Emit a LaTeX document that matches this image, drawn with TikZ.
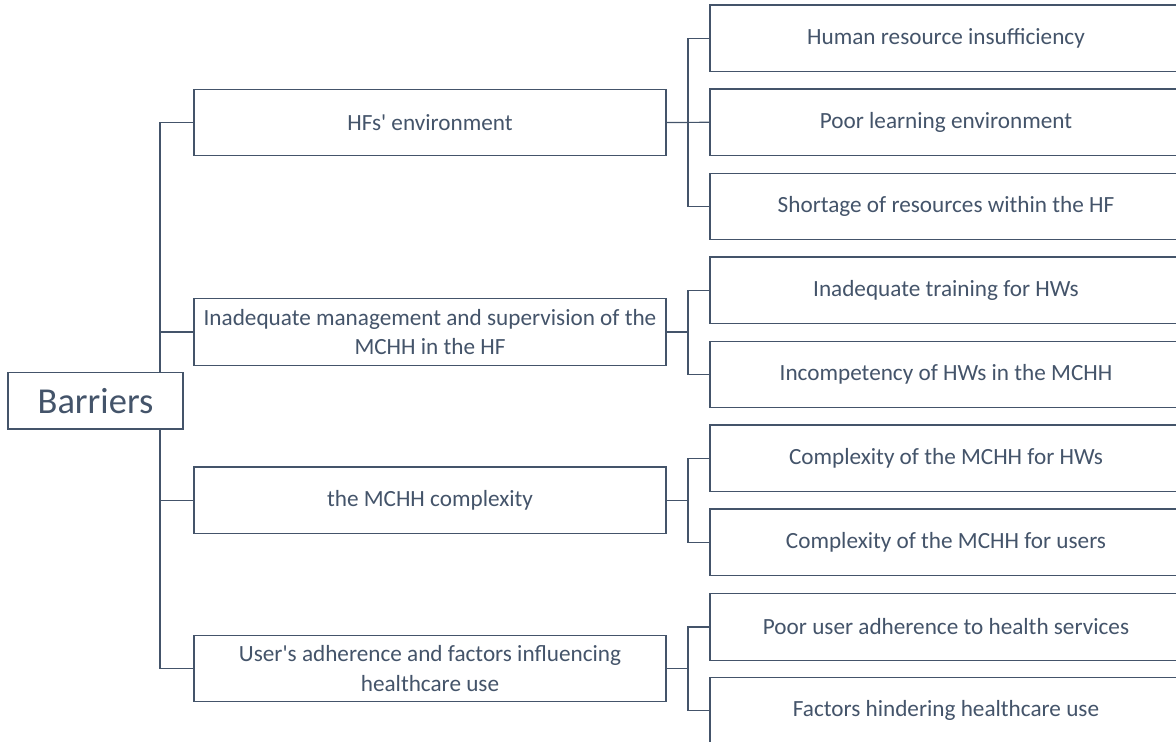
\documentclass[tikz,border=0pt]{standalone}
\usepackage{fontspec}
\setmainfont{Carlito}
\definecolor{ink}{HTML}{44546A}
\begin{document}
\begin{tikzpicture}[x=1pt,y=-1pt,
  box/.style={draw=ink, line width=1.2pt, fill=white, text=ink, inner sep=0pt,
    minimum width=472pt, minimum height=66.5pt, align=center,
    font=\fontsize{23.2}{29.5}\selectfont},
  rootbox/.style={draw=ink, line width=1.2pt, fill=white, text=ink, inner sep=0pt,
    minimum width=175pt, minimum height=56.5pt, font=\fontsize{36.5}{42}\selectfont},
  link/.style={draw=ink, line width=1.2pt}]
\useasboundingbox (0,0) rectangle (1176,742);
% level 1
\node[box] (hf)   at (430,122.5) {HFs\textquotesingle{} environment};
\node[box] (mgmt) at (430,332)   {Inadequate management and supervision of the\\MCHH in the HF};
\node[box] (cx)   at (430,500.3) {the MCHH complexity};
\node[box] (user) at (430,668.5) {User\textquotesingle{}s adherence and factors influencing\\healthcare use};
% level 2
\node[box] (c1) at (946,38.2)  {Human resource insufficiency};
\node[box] (c2) at (946,122.3) {Poor learning environment};
\node[box] (c3) at (946,206.5) {Shortage of resources within the HF};
\node[box] (c4) at (946,290.2) {Inadequate training for HWs};
\node[box] (c5) at (946,374.5) {Incompetency of HWs in the MCHH};
\node[box] (c6) at (946,458.3) {Complexity of the MCHH for HWs};
\node[box] (c7) at (946,542.2) {Complexity of the MCHH for users};
\node[box] (c8) at (946,627)   {Poor user adherence to health services};
\node[box] (c9) at (946,710.4) {Factors hindering healthcare use};
% trunk and branch x positions
\coordinate (tx) at (160,0);
\coordinate (sx) at (688,0);
% trunk
\draw[link] (hf.west) -- (hf.west -| tx) -- (user.west -| tx) -- (user.west);
\draw[link] (mgmt.west) -- (mgmt.west -| tx);
\draw[link] (cx.west) -- (cx.west -| tx);
% HFs' environment
\draw[link] (hf.east) -- (c2.west);
\draw[link] (c1.west) -- (c1.west -| sx) -- (c3.west -| sx) -- (c3.west);
% management
\draw[link] (mgmt.east) -- (mgmt.east -| sx);
\draw[link] (c4.west) -- (c4.west -| sx) -- (c5.west -| sx) -- (c5.west);
% complexity
\draw[link] (cx.east) -- (cx.east -| sx);
\draw[link] (c6.west) -- (c6.west -| sx) -- (c7.west -| sx) -- (c7.west);
% user
\draw[link] (user.east) -- (user.east -| sx);
\draw[link] (c8.west) -- (c8.west -| sx) -- (c9.west -| sx) -- (c9.west);
% root
\node[rootbox] (root) at (95.5,400.8) {Barriers};
\end{tikzpicture}
\end{document}
